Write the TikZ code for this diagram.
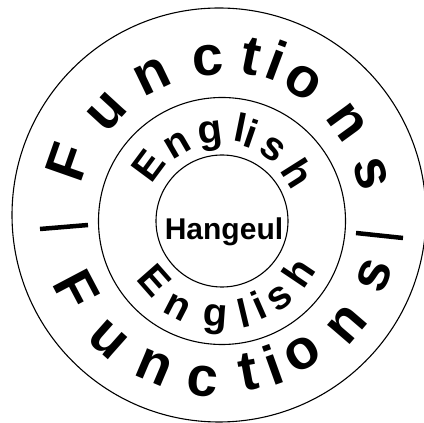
\documentclass[tikz,border=0pt]{standalone}
\usepackage{fontspec}
\setmainfont{Liberation Sans}
\begin{document}
\begin{tikzpicture}[x=1pt,y=1pt,
  ring/.style={draw, line width=1.1pt},
  bigletter/.style={font=\fontsize{56}{62}\selectfont\bfseries, inner sep=0pt},
  midletter/.style={font=\fontsize{40}{46}\selectfont\bfseries, inner sep=0pt},
  centreword/.style={font=\fontsize{30}{35}\selectfont\bfseries, inner sep=0pt, anchor=base},
  bar/.style={line width=4.5pt}]
\useasboundingbox (0,0) rectangle (424,423);
\clip (0,0) rectangle (424,423);
\coordinate (O) at (219,208);
\coordinate (M) at (222,202);
\draw[ring] (O) circle[radius=207];
\draw[ring] (M) circle[radius=123.5];
\draw[ring] (M) circle[radius=66];
% outer ring, top
\foreach \ch/\a/\r [count=\k] in {F/160.7/160, u/137.4/152, n/115.7/154, c/94.1/155, t/78.6/162, i/69.5/165.5, o/57.7/157, n/36/158, s/15.4/157.7}
  \node[bigletter, rotate=\a-90] (ftop\k) at ([shift={(\a:\r)}]O) {\ch};
% outer ring, bottom
\foreach \ch/\a/\r [count=\k] in {F/207.8/160.6, u/228.4/167, n/247/166, c/264.2/167, t/280.5/160, i/289.8/159, o/301.1/162, n/319.3/169, s/338.5/166.6}
  \node[bigletter, rotate=\a+90] (fbot\k) at ([shift={(\a:\r)}]O) {\ch};
% middle ring, top
\foreach \ch/\a/\r [count=\k] in {E/143.4/92.2, n/120.1/87.8, g/97.4/85.2, l/78.5/95, i/71/92, s/54.7/88.2, h/32.3/89.9}
  \node[midletter, rotate=\a-90] (etop\k) at ([shift={(\a:\r)}]M) {\ch};
% middle ring, bottom
\foreach \ch/\a/\r [count=\k] in {E/221.4/89.3, n/242.6/98, g/266/99.2, l/283.4/94.6, i/293.8/91.8, s/307/96.4, h/326.1/91.5}
  \node[midletter, rotate=\a+90] (ebot\k) at ([shift={(\a:\r)}]M) {\ch};
% centre
\node[centreword] (hang) at (224,183) {Hangeul};
% separator bars
\coordinate (bl1) at (40,194);
\coordinate (bl2) at (88,198);
\coordinate (br1) at (356,190);
\coordinate (br2) at (403,185);
\draw[bar] (bl1) -- (bl2);
\draw[bar] (br1) -- (br2);
\end{tikzpicture}
\end{document}
